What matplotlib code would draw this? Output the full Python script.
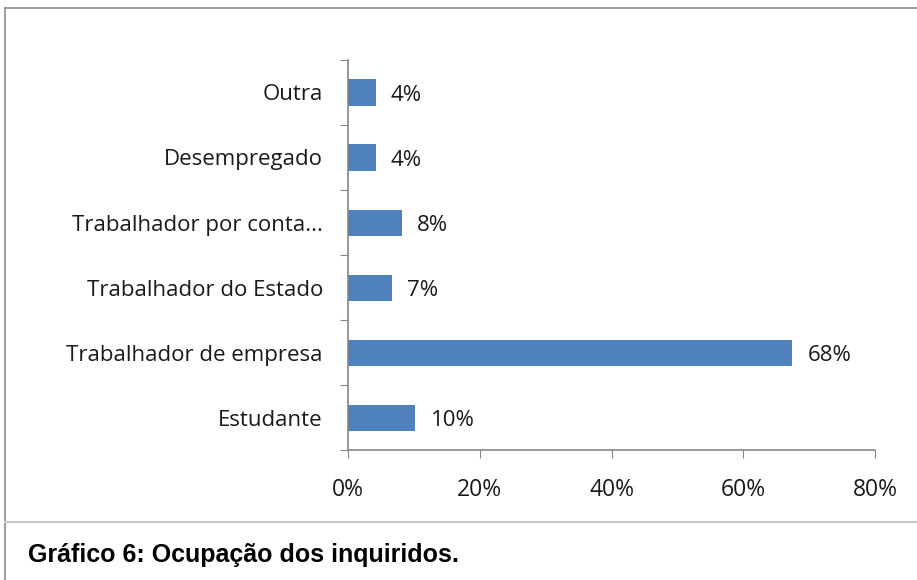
import matplotlib.pyplot as plt
from matplotlib.lines import Line2D
from matplotlib.ticker import FuncFormatter

categories = ['Estudante', 'Trabalhador de empresa', 'Trabalhador do Estado',
              'Trabalhador por conta...', 'Desempregado', 'Outra']
values = [10.2, 67.4, 6.7, 8.2, 4.2, 4.2]
value_labels = ['10%', '68%', '7%', '8%', '4%', '4%']
xticks = [0, 20, 40, 60, 80]

plt.rcParams['font.family'] = ['Open Sans', 'DejaVu Sans']

fig = plt.figure(figsize=(9.17, 5.80), dpi=100)
ax = fig.add_axes([348 / 917, 1 - 450 / 580, 527 / 917, 390 / 580])

bar_color = '#4f81bd'
ax.barh(range(len(categories)), values, height=0.4, color=bar_color)

fs = 16
for i, (v, lab) in enumerate(zip(values, value_labels)):
    ax.annotate(lab, (v, i), xytext=(11, -2), textcoords='offset points',
                va='center', ha='left', fontsize=fs, color='#1a1a1a')

ax.set_xlim(0, 80)
ax.set_ylim(-0.5, len(categories) - 0.5)
ax.set_xticks(xticks)
ax.xaxis.set_major_formatter(FuncFormatter(lambda x, p: f'{x:.0f}%'))
ax.set_yticks([i - 0.5 for i in range(len(categories) + 1)])
ax.set_yticklabels([])
ax.set_yticks(range(len(categories)), minor=True)
ax.set_yticklabels(categories, minor=True)
ax.tick_params(axis='y', which='minor', length=0, pad=18, labelsize=fs,
               labelcolor='#1a1a1a')
ax.tick_params(axis='y', which='major', length=6, color='#868686', direction='out')
ax.tick_params(axis='x', length=6, color='#868686', direction='out', pad=14,
               labelsize=fs + 0.5, labelcolor='#1a1a1a')

for side in ['top', 'right']:
    ax.spines[side].set_visible(False)
for side in ['left', 'bottom']:
    ax.spines[side].set_color('#868686')
    ax.spines[side].set_linewidth(1.2)

# chart frame and caption
W, H = 917, 580
frame = dict(color='#8c8c8c', linewidth=1.2, transform=fig.transFigure)
fig.add_artist(Line2D([5 / W, 1], [1 - 8 / H, 1 - 8 / H], **frame))
fig.add_artist(Line2D([5 / W, 5 / W], [0, 1 - 8 / H], **frame))
fig.add_artist(Line2D([5 / W, 1], [1 - 522 / H, 1 - 522 / H],
                      color='#c8c8c8', linewidth=1.5, transform=fig.transFigure))

fig.text(28 / W, 1 - 555 / H, 'Gráfico 6: Ocupação dos inquiridos.',
         fontsize=18, fontweight='bold', va='center', ha='left',
         family=['Liberation Sans', 'DejaVu Sans'])

fig.savefig('out.png', dpi=100, facecolor='white')
